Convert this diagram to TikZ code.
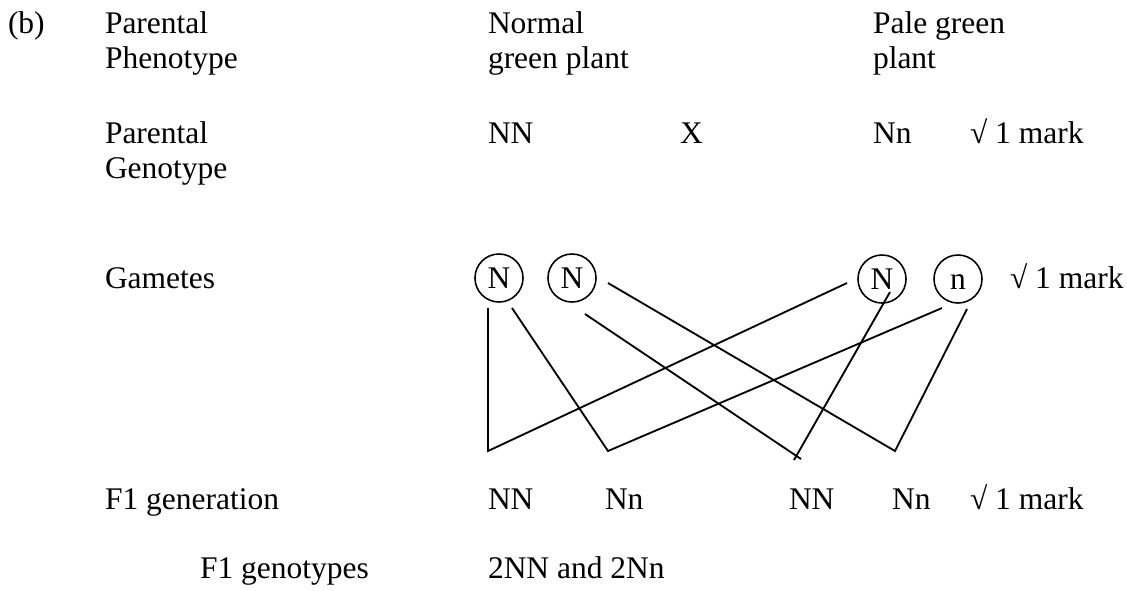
\documentclass[tikz,border=0pt]{standalone}
\usepackage{fontspec}
\setmainfont{Liberation Serif}
\usetikzlibrary{calc}
\begin{document}
\begin{tikzpicture}[x=0.381pt,y=-0.381pt,
  lbl/.style={anchor=base west,inner sep=0pt,outer sep=0pt,font=\fontsize{12}{13.3}\selectfont},
  gam/.style={circle,draw,line width=0.6pt,minimum size=18.3pt,inner sep=0pt,
    text height=7.9pt,text depth=0pt,font=\fontsize{12}{13.3}\selectfont},
  conn/.style={line width=0.7pt,line cap=butt,line join=miter}]
\useasboundingbox (0,0) rectangle (1127,590);
% header rows
\node[lbl] (b) at (8,33) {(b)};
\node[lbl] (pp1) at (105,33) {Parental};
\node[lbl] (pp2) at (105,68) {Phenotype};
\node[lbl] (n1) at (488,33) {Normal};
\node[lbl] (n2) at (488,68) {green plant};
\node[lbl] (pg1) at (873,33) {Pale green};
\node[lbl] (pg2) at (873,68) {plant};
% genotype rows
\node[lbl] (pgt1) at (105,143) {Parental};
\node[lbl] (pgt2) at (105,178) {Genotype};
\node[lbl] (gNN) at (488,143) {NN};
\node[lbl] (gX) at (680,143) {X};
\node[lbl] (gNn) at (873,143) {Nn};
\node[lbl] (m1) at (970,143) {√ 1 mark};
% gametes
\node[lbl] (gam) at (105,288) {Gametes};
\node[gam] (g1) at (499,278) {N};
\node[gam] (g2) at (572,278) {N};
\node[gam] (g3) at (882,279) {N};
\node[gam] (g4) at (958,279) {n};
\node[lbl] (m2) at (1010,288) {√ 1 mark};
% F1
\node[lbl] (f1) at (105,509) {F1 generation};
\node[lbl] (o1) at (488,509) {NN};
\node[lbl] (o2) at (605,509) {Nn};
\node[lbl] (o3) at (789,509) {NN};
\node[lbl] (o4) at (892,509) {Nn};
\node[lbl] (m3) at (970,509) {√ 1 mark};
\node[lbl] (fg) at (200,578) {F1 genotypes};
\node[lbl] (fgv) at (488,578) {2NN and 2Nn};
% junction points
\coordinate (j1) at (488,451);
\coordinate (j2) at (608,451);
\coordinate (j3) at (895,451);
\coordinate (j4) at (797,456);
% connectors
\draw[conn] ($(g1)+(-11,30)$) -- (j1) -- ($(g3)+(-35,4)$);
\draw[conn] ($(g1)+(13,30)$) -- (j2) -- ($(g4)+(-16,29)$);
\draw[conn] ($(g2)+(36,5)$) -- (j3) -- ($(g4)+(9,30)$);
\draw[conn] ($(g2)+(13,36)$) -- ($(j4)+(4,3)$);
\draw[conn] ($(g3)+(8,13)$) -- ($(j4)+(-3,4)$);
\end{tikzpicture}
\end{document}
